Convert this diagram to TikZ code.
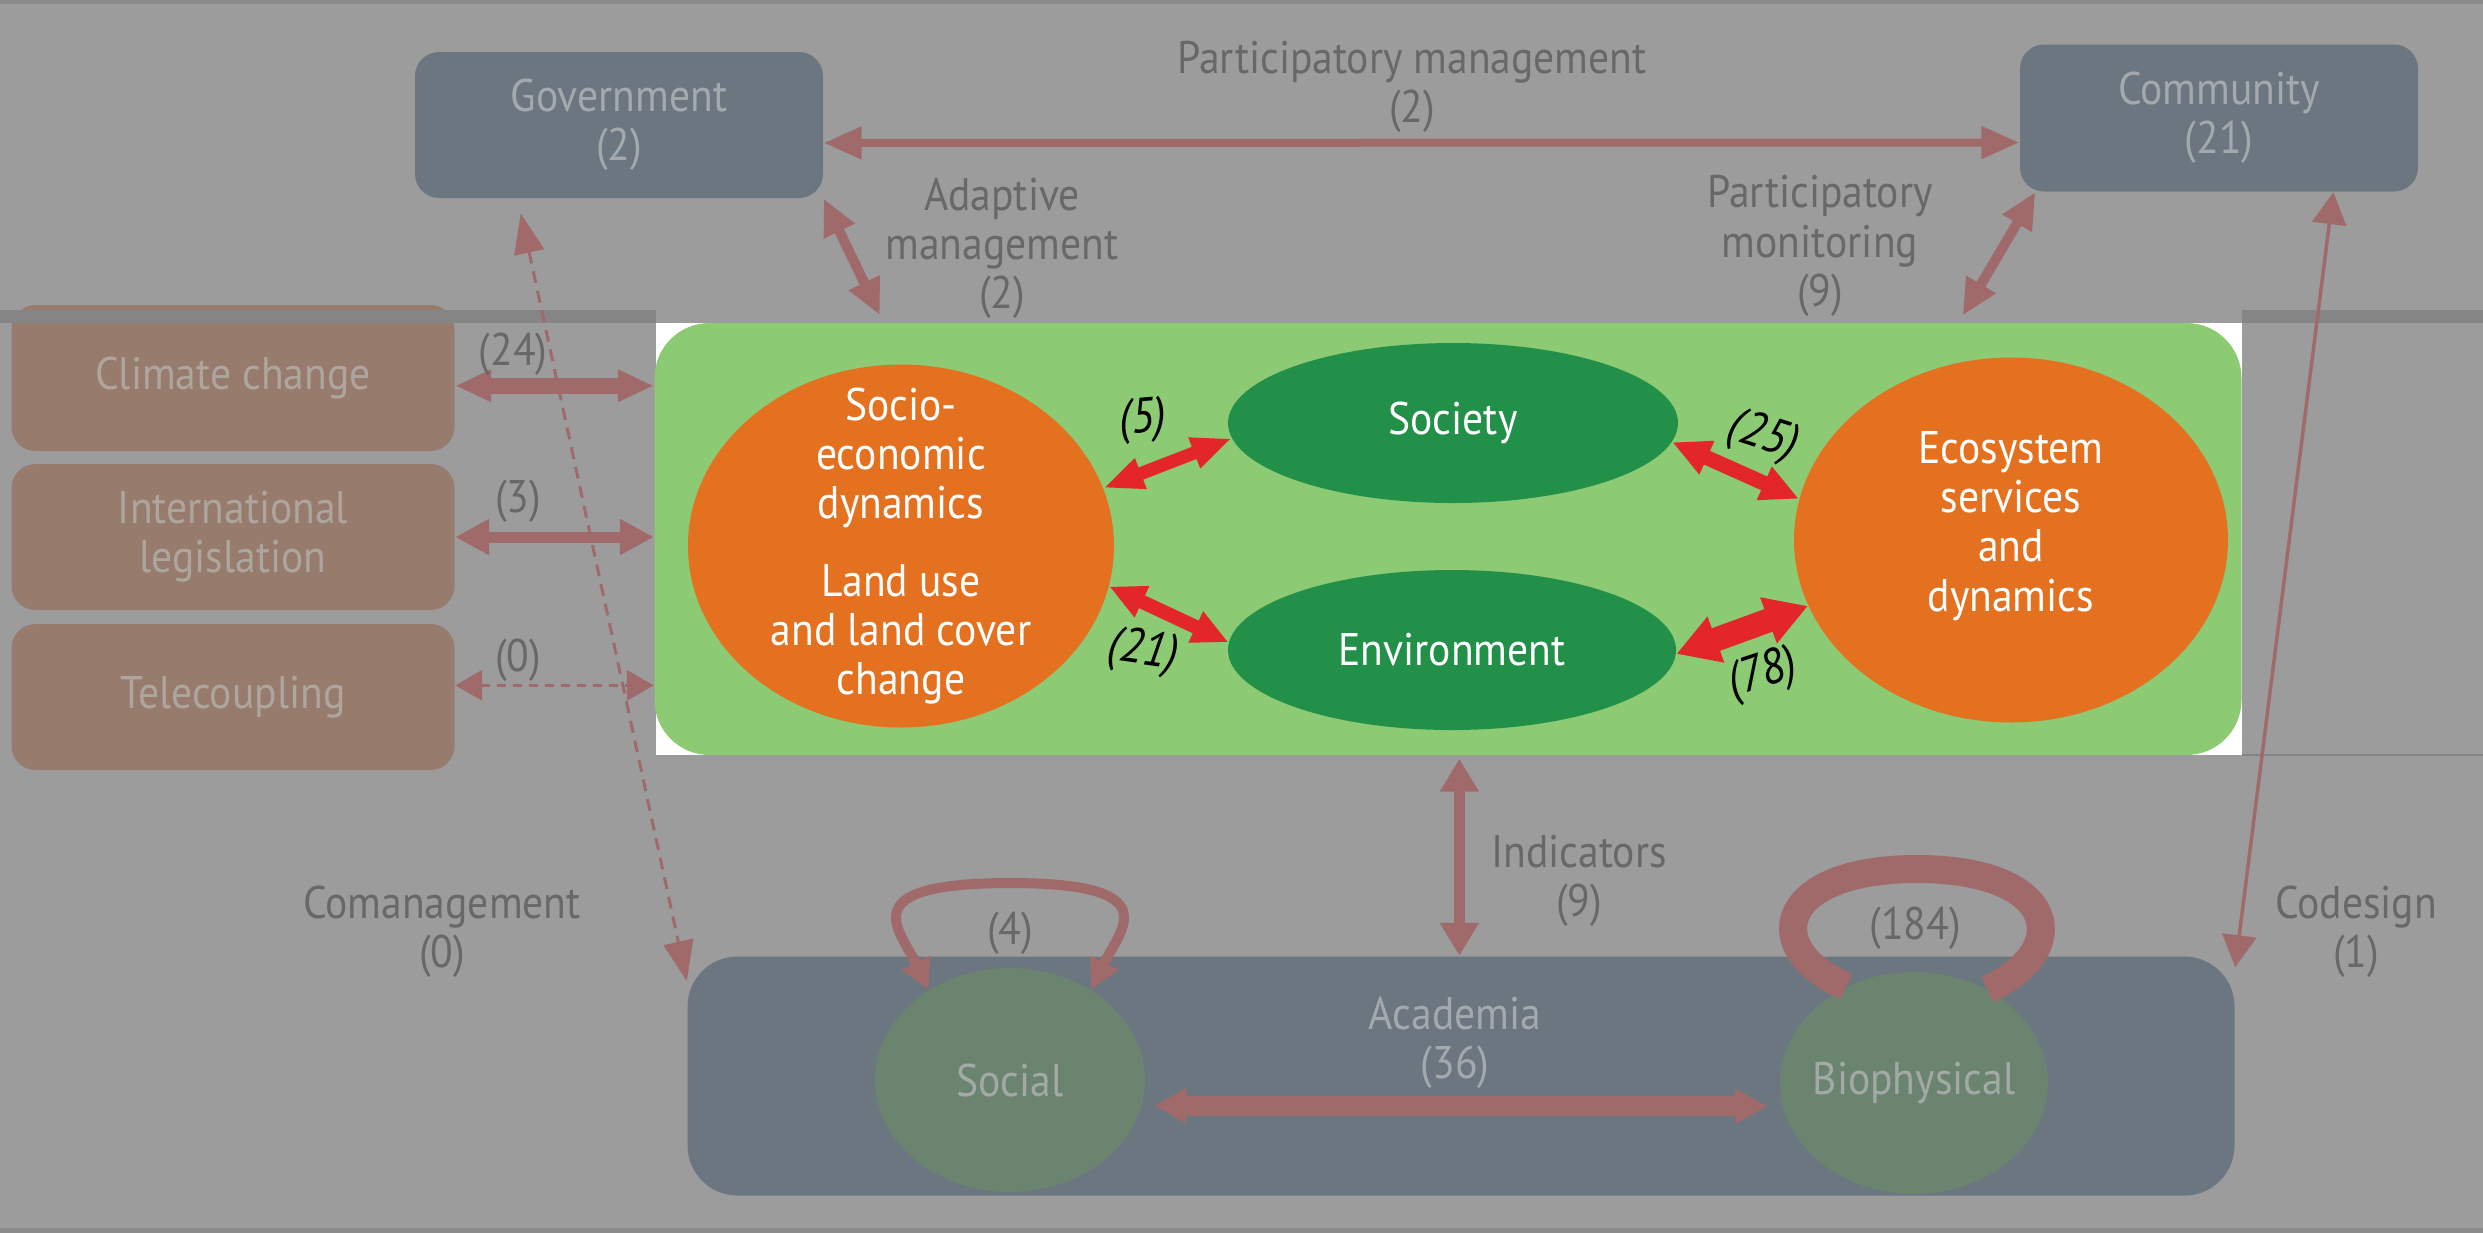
\documentclass[tikz,border=0pt]{standalone}
\usepackage{fontspec}
\setmainfont{PT Sans}[FakeStretch=0.91]
\usetikzlibrary{arrows.meta,shapes.geometric}

\definecolor{bggray}{HTML}{9C9C9C}
\definecolor{rimgray}{HTML}{8A8A8A}
\definecolor{bandgray}{HTML}{858585}
\definecolor{slate}{HTML}{6B7680}
\definecolor{slatetext}{HTML}{A3A9AD}
\definecolor{mud}{HTML}{977B6C}
\definecolor{mudtext}{HTML}{ADA59E}
\definecolor{linkred}{HTML}{A06A6A}
\definecolor{labelgray}{HTML}{686868}
\definecolor{leaf}{HTML}{8DCA74}
\definecolor{pumpkin}{HTML}{E3711F}
\definecolor{forest}{HTML}{23904A}
\definecolor{alarm}{HTML}{E3262A}
\definecolor{sage}{HTML}{6A8470}
\definecolor{sagetext}{HTML}{A3AAA5}

\begin{document}
\begin{tikzpicture}[x=0.1mm,y=-0.1mm,font=\fontsize{13}{14}\selectfont,
  slatebox/.style={fill=slate,text=slatetext,rounded corners=2.4mm,align=center},
  mudbox/.style={fill=mud,text=mudtext,rounded corners=2.4mm,align=center,
    minimum width=44.3mm,minimum height=14.6mm},
  oval/.style={ellipse,inner sep=0pt},
  intext/.style={text=white,align=center},
  note/.style={text=labelgray,align=center},
  count/.style={font=\fontsize{14}{14}\selectfont\itshape},
  link/.style n args={3}{draw=linkred,line width=#1,
    arrows={Triangle[length=#2,width=#3]-Triangle[length=#2,width=#3]}},
  hot/.style n args={3}{draw=alarm,line width=#1,
    arrows={Triangle[length=#2,width=#3]-Triangle[length=#2,width=#3]}}]

% backdrop
\useasboundingbox (0,0) rectangle (2483,1233);
\fill[bggray] (0,0) rectangle (2483,1233);
\fill[rimgray] (0,0) rectangle (2483,4);
\fill[rimgray] (0,1228) rectangle (2483,1233);

% actors
\node[slatebox,minimum width=40.8mm,minimum height=14.6mm] (govt) at (619,125) {Government\\(2)};
\node[slatebox,minimum width=39.8mm,minimum height=14.7mm] (comm) at (2219,118) {Community\\(21)};
\node[mudbox] (clim) at (233,378) {Climate change};
\node[mudbox] (intl) at (233,537) {International\\legislation};
\node[mudbox] (tele) at (233,697) {Telecoupling};

% strip
\fill[bandgray] (0,310) rectangle (656,323);
\fill[bandgray] (2242,310) rectangle (2483,323);
\draw[bandgray,line width=0.25mm] (2242,755) -- (2483,755);

% core system
\fill[white] (656,323) rectangle (2242,755);
\node[fill=leaf,rounded corners=5.5mm,minimum width=158.7mm,minimum height=43.2mm] (core) at (1448,539) {};
\node[oval,fill=pumpkin,minimum width=42.6mm,minimum height=36.3mm,
  label={[intext]center:{Socio-\\economic\\dynamics\\[8pt]Land use\\and land cover\\change}}] (socio) at (901,546) {};
\node[oval,fill=forest,minimum width=45mm,minimum height=16mm,label={[intext]center:Society}] (society) at (1453,423) {};
\node[oval,fill=forest,minimum width=44.8mm,minimum height=16mm,label={[intext]center:Environment}] (env) at (1452,650) {};
\node[oval,fill=pumpkin,minimum width=43.4mm,minimum height=36.5mm,
  label={[intext,yshift=1.4mm]center:{Ecosystem\\services\\and\\dynamics}}] (ecosys) at (2011,540) {};

\draw[hot={1.3mm}{4mm}{3mm}] (socio.16) -- (society.184);
\draw[hot={1.4mm}{3.6mm}{3.2mm}] (socio.-11) -- (env.178);
\draw[hot={1.5mm}{3.8mm}{3.4mm}] (society.-5) -- (ecosys.169);
\draw[hot={2.4mm}{4.2mm}{4.6mm}] (env.-1) -- (ecosys.198);

\node[count,rotate=5] (c5) at (1143,420) {(5)};
\node[count,rotate=-8] (c21) at (1143,652) {(21)};
\node[count,rotate=-18] (c25) at (1763,437) {(25)};
\node[count,rotate=18] (c78) at (1763,675) {(78)};

% academia
\node[slatebox,rounded corners=5mm,minimum width=154.7mm,minimum height=23.9mm] (acad) at (1461,1076) {};
\node[text=slatetext,align=center] (acadname) at (1455,1043) {Academia\\(36)};
\node[oval,fill=sage,minimum width=27mm,minimum height=22.4mm,label={[text=sagetext]center:Social}] (social) at (1010,1080) {};
\node[oval,fill=sage,minimum width=26.8mm,minimum height=22.2mm,label={[text=sagetext]center:Biophysical}] (bio) at (1914,1083) {};

% links
\draw[link={0.8mm}{3.8mm}{3.1mm}] (govt.-5) -- (comm.187);
\draw[link={1mm}{3.6mm}{3.2mm},shorten >=0.8mm] (govt.south east) -- (core.159.5);
\draw[link={1mm}{3.6mm}{3.2mm},shorten >=0.8mm] (comm.202) -- (core.23);
\draw[link={0.35mm}{3.2mm}{3.4mm}] (comm.-33) -- (acad.8);
\draw[link={0.3mm}{4mm}{3mm},dash pattern=on 1.2mm off 0.8mm,shorten <=1.5mm] (govt.216) -- (acad.173);
\draw[link={1.1mm}{3.3mm}{3.7mm},shorten <=0.3mm] (core.-87.35) -- (core.-87.35 |- acad.north);
\draw[link={1.6mm}{3.6mm}{3mm}] (clim.-2) -- (clim.-2 -| core.west);
\draw[link={1.1mm}{3.4mm}{3.4mm}] (intl.east) -- (intl.east -| core.west);
\draw[link={0.35mm}{2.7mm}{3mm},dash pattern=on 0.9mm off 0.7mm] (tele.3) -- (tele.3 -| core.west);

\draw[link={2mm}{3.2mm}{3.3mm},shorten <=1.2mm,shorten >=1.5mm] (social.-11) -- (bio.190);
\draw[link={1mm}{3mm}{3mm}] (social.132) .. controls (900,930) and (850,883) .. (1010,883)
  .. controls (1170,883) and (1120,930) .. (social.48);
\draw[linkred,line width=2.8mm] (bio.125) .. controls (1760,950) and (1775,869) .. (1917,869)
  .. controls (2059,869) and (2074,950) .. (bio.52);

% labels
\node[note] (partman) at (1412,87) {Participatory management\\(2)};
\node[note] (adapt) at (1002,248) {Adaptive\\management\\(2)};
\node[note] (partmon) at (1820,246) {Participatory\\monitoring\\(9)};
\node[note] (coman) at (442,932) {Comanagement\\(0)};
\node[note] (indic) at (1579,881) {Indicators\\(9)};
\node[note] (codes) at (2356,932) {Codesign\\(1)};
\node[note] (n24) at (513,354) {(24)};
\node[note] (n3) at (518,501) {(3)};
\node[note] (n0) at (518,660) {(0)};
\node[note] (n4) at (1010,933) {(4)};
\node[note] (n184) at (1915,928) {(184)};
\end{tikzpicture}
\end{document}
